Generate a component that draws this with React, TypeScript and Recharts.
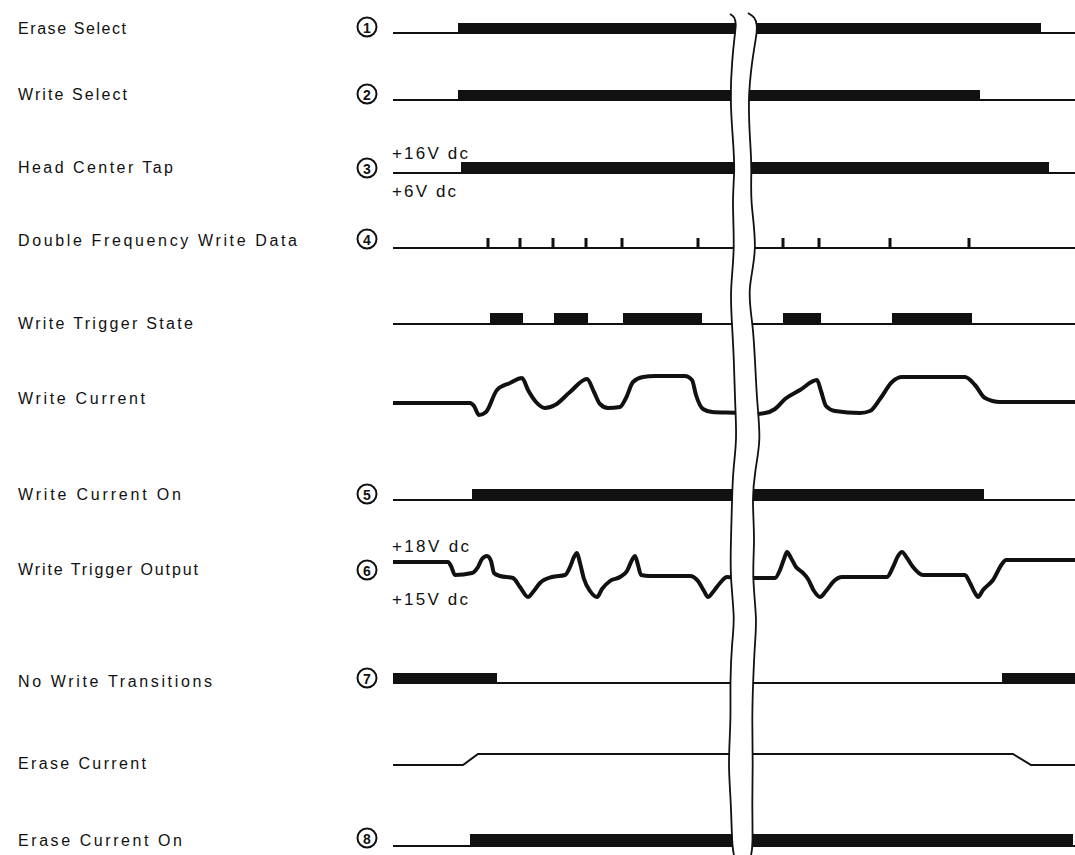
import { ComposedChart, Line, ReferenceDot, XAxis, YAxis } from "recharts"

// time extent of every trace
const T0 = 393
const T1 = 1075

const signalNames = [
  "Erase Select",
  "Write Select",
  "Head Center Tap",
  "Double Frequency Write Data",
  "Write Trigger State",
  "Write Current",
  "Write Current On",
  "Write Trigger Output",
  "No Write Transitions",
  "Erase Current",
  "Erase Current On",
]
const pointRefs = ["1", "2", "3", "4", "", "", "5", "6", "7", "", "8"]

// high intervals of the logic traces
const eraseSelectHigh = [[458, 1041]]
const writeSelectHigh = [[458, 980]]
const headTapHigh = [[461, 1049]]
const writeDataPulses = [488, 520, 553, 586, 622, 698, 783, 819, 890, 969]
const triggerStateHigh = [[490, 523], [554, 588], [623, 702], [783, 821], [892, 972]]
const writeCurrentOnHigh = [[472, 984]]
const noWriteHigh = [[T0, 497], [1002, T1]]
const eraseCurrentOnHigh = [[470, 1073]]

// analog traces: [time, level]
const writeCurrent = [
  [393, 0], [470, 0], [474, -3], [479, -12], [486, -9], [497, 13], [510, 20], [522, 25],
  [528, 13], [536, 1], [545, -5], [555, -2], [570, 11], [587, 24], [594, 11], [600, -1],
  [608, -5], [620, -4], [626, 5], [633, 21], [643, 26], [655, 27], [685, 27], [692, 23],
  [696, 8], [703, -6], [712, -9], [740, -10],
  [752, -11], [765, -10], [775, -6], [785, 4], [800, 13], [817, 23], [821, 12], [826, -3],
  [835, -8], [860, -10], [870, -8], [880, 4], [892, 21], [902, 26], [965, 26], [975, 18],
  [985, 5], [1000, 1], [1075, 1],
]
const triggerOutput = [
  [393, 13], [448, 13], [451, 9], [455, 0], [472, 2], [478, 8], [482, 16], [487, 19],
  [491, 14], [494, 2], [500, -1], [513, -3], [520, -12], [528, -22], [533, -17], [540, -8],
  [552, -2], [565, 0], [570, 8], [574, 18], [577, 22], [580, 12], [584, -4], [590, -16],
  [597, -22], [602, -14], [610, -6], [620, -2], [627, 4], [632, 15], [635, 19], [638, 10],
  [641, 0], [650, -1], [690, -1], [698, -6], [704, -16], [708, -22], [713, -17], [720, -8],
  [727, -2], [740, -3],
  [752, -3], [775, -3], [780, 5], [784, 16], [787, 23], [791, 17], [796, 8], [802, 3],
  [808, -4], [814, -16], [820, -22], [826, -16], [834, -6], [842, -2], [887, -2], [893, 8],
  [898, 19], [902, 23], [907, 17], [913, 8], [923, 0], [965, 0], [970, -8], [975, -18],
  [978, -22], [983, -15], [993, -5], [1002, 11], [1006, 15], [1075, 15],
]
const eraseCurrent = [[393, 0], [463, 0], [478, 11], [1013, 11], [1031, 0], [1075, 0]]

// the time break: [depth, time] for both edges
const breakLeft = [
  [14, 730], [17, 735], [25, 736], [33, 735], [60, 732], [100, 730], [140, 733], [170, 735],
  [200, 732], [250, 735], [290, 730], [324, 732], [360, 734], [403, 735], [440, 737],
  [470, 733], [500, 732], [540, 731], [575, 730], [620, 735], [640, 732], [683, 730],
  [720, 731], [765, 728], [800, 731], [846, 732], [855, 734],
]
const breakRight = [
  [13, 748], [17, 755], [25, 757], [33, 757], [60, 752], [100, 748], [140, 750], [170, 752],
  [200, 750], [250, 758], [290, 747], [324, 753], [360, 755], [403, 757], [440, 761],
  [470, 755], [500, 752], [540, 755], [575, 752], [620, 757], [640, 755], [683, 753],
  [720, 752], [765, 753], [800, 752], [846, 753], [855, 751],
]

const voltageNotes = ["+16V dc", "+6V dc", "+18V dc", "+15V dc"]

// layout
const rowBase = [33, 100, 173, 248, 324, 403, 500, 575, 683, 765, 846]
const barHeight = [10, 10, 11, 10, 11, 0, 11, 0, 10, 0, 12]
const labelY = [28, 94, 167, 240, 323, 398, 494, 569, 681, 763, 840]
const labelW = [108, 109, 155, 279, 175, 127, 163, 180, 194, 128, 164]
const refY = [27, 94, 168, 239, 0, 0, 494, 570, 678, 0, 838]
const noteY = [153, 191, 546, 599]
const noteW = [76, 64, 77, 76]
const FONT = "'Liberation Sans', Arial, sans-serif"
const INK = "#111"

type Pt = { t: number; v: number | null }

const flat = (row: number): Pt[] => [{ t: T0, v: rowBase[row] }, { t: T1, v: rowBase[row] }]

const bars = (intervals: number[][], row: number): Pt[] => {
  const y = rowBase[row] - barHeight[row] / 2
  const out: Pt[] = []
  intervals.forEach(([a, b], i) => {
    if (i > 0) out.push({ t: (intervals[i - 1][1] + a) / 2, v: null })
    out.push({ t: a, v: y }, { t: b, v: y })
  })
  return out
}

const ticks = (times: number[], row: number): Pt[] =>
  times.flatMap((t) => [
    { t, v: rowBase[row] },
    { t, v: rowBase[row] - barHeight[row] },
    { t, v: null },
  ])

const wave = (pts: number[][], row: number): Pt[] => pts.map(([t, l]) => ({ t, v: rowBase[row] - l }))

const edge = (pts: number[][], shift = 0): Pt[] => pts.map(([d, t]) => ({ t: t + shift, v: d }))

const logicRows: [number[][], number][] = [
  [eraseSelectHigh, 0],
  [writeSelectHigh, 1],
  [headTapHigh, 2],
  [triggerStateHigh, 4],
  [writeCurrentOnHigh, 6],
  [noWriteHigh, 8],
  [eraseCurrentOnHigh, 10],
]

const TextMark = (text: string, size: number, width: number) => (p: any) => (
  <text
    x={p.cx}
    y={p.cy}
    dominantBaseline="central"
    fontFamily={FONT}
    fontSize={size}
    textLength={width}
    lengthAdjust="spacing"
    fill={INK}
  >
    {text}
  </text>
)

const RefMark = (n: string) => (p: any) => (
  <g>
    <circle cx={p.cx} cy={p.cy} r={9.5} fill="#fff" stroke={INK} strokeWidth={2} />
    <text
      x={p.cx}
      y={p.cy + 0.5}
      textAnchor="middle"
      dominantBaseline="central"
      fontFamily={FONT}
      fontWeight={600}
      fontSize={14}
      fill={INK}
    >
      {n}
    </text>
  </g>
)

export default function App() {
  return (
    <div style={{ position: "absolute", left: 0, top: 0, background: "#fff" }}>
      <ComposedChart width={1075} height={855} margin={{ top: 0, right: 0, bottom: 0, left: 0 }}>
        <XAxis type="number" dataKey="t" domain={[0, 1075]} hide allowDataOverflow />
        <YAxis type="number" domain={[0, 855]} reversed hide allowDataOverflow />

        {[0, 1, 2, 3, 4, 6, 8, 10].map((r) => (
          <Line key={"base" + r} data={flat(r)} dataKey="v" stroke={INK} strokeWidth={2}
            dot={false} activeDot={false} isAnimationActive={false} />
        ))}
        {logicRows.map(([iv, r]) => (
          <Line key={"bar" + r} data={bars(iv, r)} dataKey="v" stroke={INK} strokeWidth={barHeight[r]}
            dot={false} activeDot={false} isAnimationActive={false} />
        ))}
        <Line data={ticks(writeDataPulses, 3)} dataKey="v" stroke={INK} strokeWidth={3}
          dot={false} activeDot={false} isAnimationActive={false} />
        <Line data={wave(writeCurrent, 5)} dataKey="v" type="monotone" stroke={INK} strokeWidth={4}
          strokeLinejoin="round" dot={false} activeDot={false} isAnimationActive={false} />
        <Line data={wave(triggerOutput, 7)} dataKey="v" type="monotone" stroke={INK} strokeWidth={4}
          strokeLinejoin="round" dot={false} activeDot={false} isAnimationActive={false} />
        <Line data={wave(eraseCurrent, 9)} dataKey="v" stroke={INK} strokeWidth={2}
          dot={false} activeDot={false} isAnimationActive={false} />

        {/* the break: blank the gap, then draw both edges */}
        <Line data={edge(breakLeft, 6.5)} dataKey="v" type="basis" stroke="#fff" strokeWidth={12}
          dot={false} activeDot={false} isAnimationActive={false} />
        <Line data={edge(breakRight, -6.5)} dataKey="v" type="basis" stroke="#fff" strokeWidth={12}
          dot={false} activeDot={false} isAnimationActive={false} />
        <Line data={edge(breakLeft)} dataKey="v" type="basis" stroke={INK} strokeWidth={1.8}
          dot={false} activeDot={false} isAnimationActive={false} />
        <Line data={edge(breakRight)} dataKey="v" type="basis" stroke={INK} strokeWidth={1.8}
          dot={false} activeDot={false} isAnimationActive={false} />

        {signalNames.map((name, i) => (
          <ReferenceDot key={name} x={18} y={labelY[i]} r={0} shape={TextMark(name, 16, labelW[i])} />
        ))}
        {pointRefs.map((n, i) =>
          n ? <ReferenceDot key={"ref" + n} x={367} y={refY[i]} r={9} shape={RefMark(n)} /> : null
        )}
        {voltageNotes.map((s, i) => (
          <ReferenceDot key={s} x={392} y={noteY[i]} r={0} shape={TextMark(s, 17, noteW[i])} />
        ))}
      </ComposedChart>
    </div>
  )
}
